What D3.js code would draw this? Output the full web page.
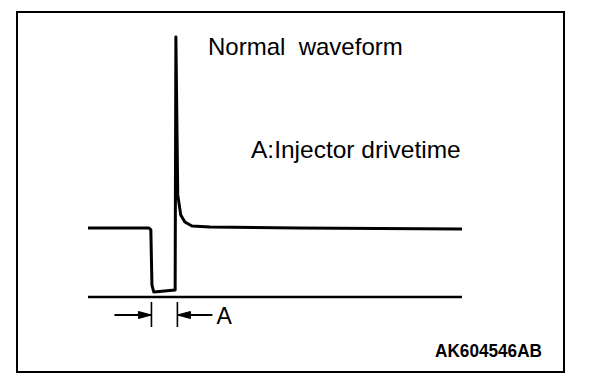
<!DOCTYPE html>
<html>
<head>
<meta charset="utf-8">
<script src="https://cdn.jsdelivr.net/npm/d3@7"></script>
<style>
  body { margin: 0; background: #fff; }
  text { font-family: "Liberation Sans", Arial, sans-serif; fill: #000; white-space: pre; }
</style>
</head>
<body>
<div id="wrapper"></div>
<script>
// injector waveform, time in ms, voltage in V
const timeMs = [0, 1.63, 1.68, 1.71, 1.76, 2.33, 2.35, 2.40, 2.48, 2.59, 2.78, 3.26, 5.6, 10];
const voltage = [14.0, 14.0, 13.6, 2.4, 1.0, 1.4, 52.7, 20.7, 16.6, 15.2, 14.4, 14.2, 14.0, 13.8];

// drive time markers (start of pulse, end of pulse)
const driveStart = 1.71;
const driveEnd = 2.35;

const titleText = "Normal  waveform";
const noteText = "A:Injector drivetime";
const markerLabel = "A";
const codeText = "AK604546AB";

let dimensions = {
  width: 608, height: 388,
  frame: { left: 17, top: 12, right: 564, bottom: 372 },
  plot: { left: 88, right: 462, zeroY: 297, top: 1 },
};

const dataset = timeMs.map((t, i) => ({ t, v: voltage[i] }));

const svg = d3.select("#wrapper").append("svg")
  .attr("width", dimensions.width)
  .attr("height", dimensions.height);

svg.append("rect")
  .attr("x", dimensions.frame.left)
  .attr("y", dimensions.frame.top)
  .attr("width", dimensions.frame.right - dimensions.frame.left)
  .attr("height", dimensions.frame.bottom - dimensions.frame.top)
  .attr("fill", "none")
  .attr("stroke", "#000")
  .attr("stroke-width", 2);

const xScale = d3.scaleLinear()
  .domain([0, 10])
  .range([dimensions.plot.left, dimensions.plot.right]);

const yScale = d3.scaleLinear()
  .domain([0, 52.7])
  .range([dimensions.plot.zeroY, 37]);

// 0 V reference line
svg.append("line")
  .attr("x1", xScale(0))
  .attr("x2", xScale(10))
  .attr("y1", yScale(0))
  .attr("y2", yScale(0))
  .attr("stroke", "#000")
  .attr("stroke-width", 2.5);

const lineGenerator = d3.line()
  .x(d => xScale(d.t))
  .y(d => yScale(d.v));

svg.append("path")
  .attr("d", lineGenerator(dataset))
  .attr("fill", "none")
  .attr("stroke", "#000")
  .attr("stroke-width", 3)
  .attr("stroke-linejoin", "round");

// drive time markers
const markY = 315;
const x0 = xScale(driveStart) - 0.5;
const x1 = xScale(driveEnd) + 1.5;
const marks = svg.append("g").attr("stroke", "#000").attr("fill", "#000");

[x0, x1].forEach(x => {
  marks.append("line")
    .attr("x1", x).attr("x2", x)
    .attr("y1", 302).attr("y2", 327)
    .attr("stroke-width", 1.6);
});

marks.append("line")
  .attr("x1", x0 - 37).attr("x2", x0)
  .attr("y1", markY).attr("y2", markY)
  .attr("stroke-width", 2);
marks.append("path")
  .attr("d", `M${x0},${markY} L${x0 - 13},${markY - 3.5} L${x0 - 13},${markY + 3.5} Z`)
  .attr("stroke-width", 1);

marks.append("line")
  .attr("x1", x1).attr("x2", x1 + 35)
  .attr("y1", markY).attr("y2", markY)
  .attr("stroke-width", 2);
marks.append("path")
  .attr("d", `M${x1},${markY} L${x1 + 13},${markY - 3.5} L${x1 + 13},${markY + 3.5} Z`)
  .attr("stroke-width", 1);

svg.append("text")
  .attr("x", x1 + 39)
  .attr("y", 324)
  .attr("font-size", 23)
  .text(markerLabel);

svg.append("text")
  .attr("x", 208)
  .attr("y", 55)
  .attr("font-size", 24)
  .attr("xml:space", "preserve")
  .text(titleText);

svg.append("text")
  .attr("x", 251)
  .attr("y", 158)
  .attr("font-size", 24.5)
  .text(noteText);

svg.append("text")
  .attr("x", 435)
  .attr("y", 357)
  .attr("font-size", 19)
  .attr("font-weight", "bold")
  .attr("textLength", 107)
  .attr("lengthAdjust", "spacingAndGlyphs")
  .text(codeText);
</script>
</body>
</html>
